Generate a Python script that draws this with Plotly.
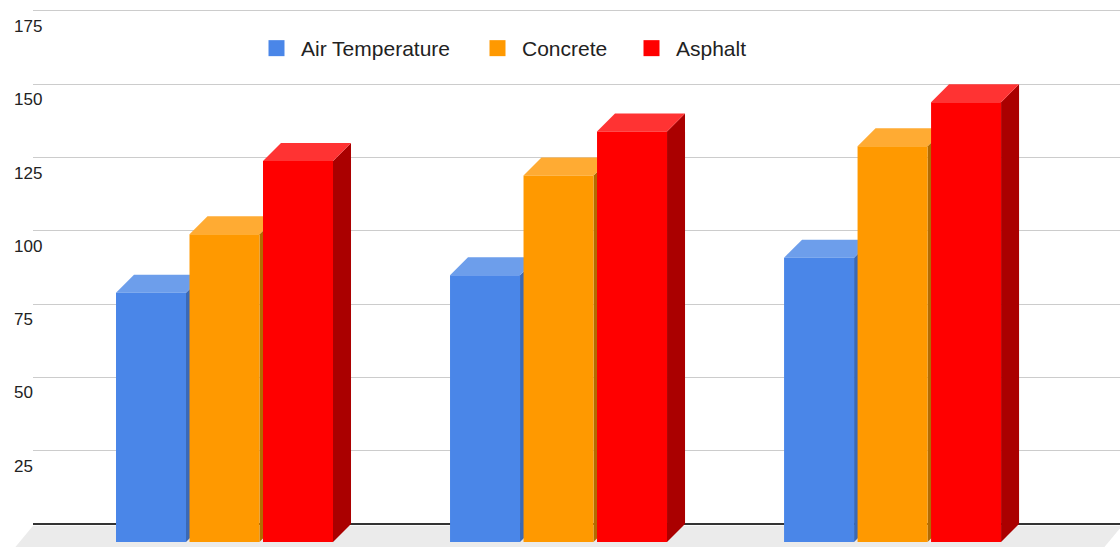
import plotly.graph_objects as go

# ---- data -------------------------------------------------------------
categories = ["Site 1", "Site 2", "Site 3"]
series_names = ["Air Temperature", "Concrete", "Asphalt"]
air_temperature = [85, 91, 97]
concrete = [105, 125, 135]
asphalt = [130, 140, 150]
y_ticks = [25, 50, 75, 100, 125, 150, 175]

# ---- style ------------------------------------------------------------
front_colors = ["#4a86e8", "#ff9900", "#ff0000"]
top_colors = ["#6d9eeb", "#ffab33", "#ff3333"]
side_colors = ["#3b69b5", "#b36b00", "#aa0000"]
FONT = "Arial, Liberation Sans, sans-serif"

W, H = 1120, 547
Y_MIN, Y_MAX = -7.85, 178.75
X_MIN, X_MAX = -0.726, 2.627
px_x = W / (X_MAX - X_MIN)
px_y = H / (Y_MAX - Y_MIN)

# oblique depth of the 3D bars, converted into axis units
dx = 18 / px_x
dy = 18 / px_y
bar_w = 70 / px_x
step = 73.5 / px_x

series_values = [air_temperature, concrete, asphalt]

fig = go.Figure()


def poly(xs, ys, color):
    fig.add_trace(go.Scatter(
        x=xs + [xs[0]], y=ys + [ys[0]], mode="lines", fill="toself",
        fillcolor=color, line=dict(width=0, color=color),
        xaxis="x2", yaxis="y2", showlegend=False, hoverinfo="skip"))


# floor of the 3D box
floor_l = X_MIN + 33 / px_x
floor_r = X_MAX + 2 / px_x
floor_dx = 20 / px_x
poly([floor_l, floor_r, floor_r - floor_dx, floor_l - floor_dx],
     [-0.6, -0.6, Y_MIN - 1, Y_MIN - 1], "#ebebeb")

# bars: side face, top face, front face, drawn left to right
for g, _cat in enumerate(categories):
    for s, values in enumerate(series_values):
        v = values[g]
        c = g + (s - 1) * step          # centre on the back plane
        x0 = c - bar_w / 2 - dx         # front face edges
        x1 = c + bar_w / 2 - dx
        yb, yt = -dy, v - dy
        poly([x1, x1, x1 + dx, x1 + dx], [yb, yt, v, 0], side_colors[s])
        poly([x0, x1, x1 + dx, x0 + dx], [yt, yt, v, v], top_colors[s])
        poly([x0, x1, x1, x0], [yb, yb, yt, yt], front_colors[s])

# legend entries, one legend each so they can be placed freely
legend_ids = ["legend", "legend2", "legend3"]
for s, name in enumerate(series_names):
    fig.add_trace(go.Scatter(
        x=[None], y=[None], mode="markers", name=name,
        marker=dict(symbol="square", size=21, color=front_colors[s]),
        xaxis="x", yaxis="y", legend=legend_ids[s], hoverinfo="skip"))

# carrier trace for the value labels axis
fig.add_trace(go.Scatter(x=[None], y=[None], xaxis="x", yaxis="y3",
                         showlegend=False, hoverinfo="skip"))

legend_centres = [276.5, 497.5, 651.5]
item_w = 39
legend_common = dict(orientation="h", xanchor="left", yanchor="middle",
                     y=1 - 48.5 / H, itemwidth=item_w,
                     font=dict(family=FONT, size=21, color="#222222"),
                     bgcolor="rgba(0,0,0,0)", borderwidth=0)

fig.update_layout(
    width=W, height=H,
    margin=dict(l=0, r=0, t=0, b=0),
    paper_bgcolor="white", plot_bgcolor="rgba(0,0,0,0)",
    hovermode=False,
    font=dict(family=FONT, color="#222222"),
    legend=dict(x=(legend_centres[0] - (item_w + 10) / 2) / W, **legend_common),
    legend2=dict(x=(legend_centres[1] - (item_w + 10) / 2) / W, **legend_common),
    legend3=dict(x=(legend_centres[2] - (item_w + 10) / 2) / W, **legend_common),
    xaxis=dict(domain=[33 / W, 1], range=[0, 1], visible=False),
    yaxis=dict(domain=[0, 1], range=[Y_MIN, Y_MAX], tickvals=[0] + y_ticks,
               showticklabels=False, ticks="", showgrid=True,
               gridcolor="#cccccc", gridwidth=1, zeroline=True,
               zerolinecolor="#333333", zerolinewidth=2, showline=False),
    yaxis3=dict(overlaying="y", anchor="free", position=10 / W, side="left",
                range=[Y_MIN, Y_MAX], tickvals=y_ticks,
                ticklabelposition="inside", ticks="", showgrid=False,
                zeroline=False, showline=False, ticklabelshift=15,
                ticklabelstandoff=0,
                tickfont=dict(family=FONT, size=17, color="#222222")),
    xaxis2=dict(domain=[0, 1], range=[X_MIN, X_MAX], visible=False,
                anchor="y2"),
    yaxis2=dict(domain=[0, 1], range=[Y_MIN, Y_MAX], visible=False,
                anchor="x2"),
)

fig.write_html("out.html")
